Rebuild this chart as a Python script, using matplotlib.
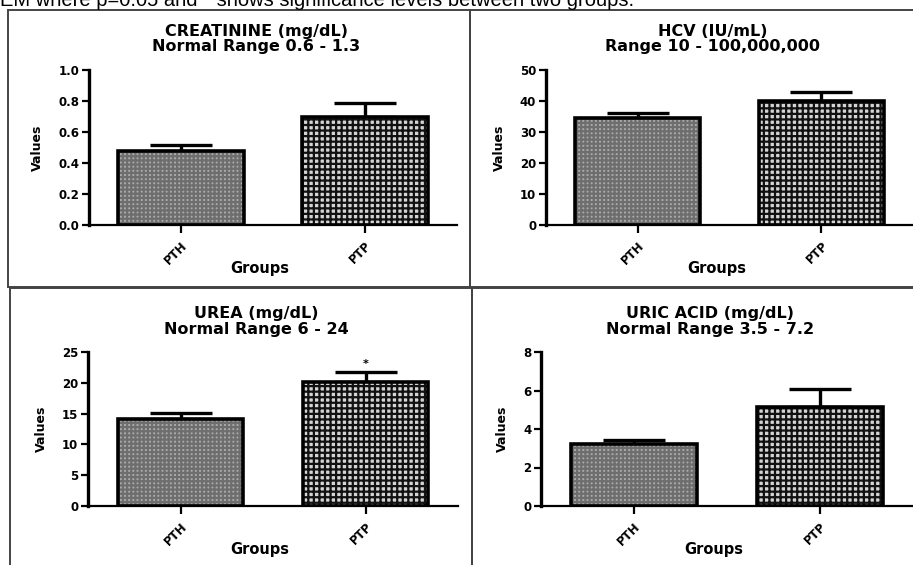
import matplotlib
matplotlib.use("Agg")
import matplotlib.pyplot as plt
from matplotlib.patches import Rectangle
from matplotlib.ticker import FormatStrFormatter

W, H = 913, 565

groups = ["PTH", "PTP"]

creatinine_mean = [0.475, 0.70]
creatinine_sem = [0.04, 0.09]
hcv_mean = [34.5, 40.0]
hcv_sem = [1.5, 2.8]
urea_mean = [14.2, 20.1]
urea_sem = [0.9, 1.6]
uric_mean = [3.2, 5.15]
uric_sem = [0.22, 0.95]

caption = "EM where p=0.05 and * shows significance levels between two groups."

plt.rcParams.update({
    "font.family": "DejaVu Sans",
    "font.weight": "bold",
    "hatch.linewidth": 1.6,
    "axes.linewidth": 2.4,
})

fig = plt.figure(figsize=(W / 100, H / 100), dpi=100, facecolor="white")


def px_axes(left, top, right, bottom):
    return fig.add_axes([left / W, 1 - bottom / H, (right - left) / W, (bottom - top) / H])


def px_box(left, top, right, bottom):
    fig.add_artist(Rectangle((left / W, 1 - bottom / H), (right - left) / W, (bottom - top) / H,
                             transform=fig.transFigure, fill=False, edgecolor="#444444",
                             linewidth=1.4))


# panel frames
px_box(8, 10, 470, 287)
px_box(470, 10, 916, 287)
px_box(10, 288, 472, 570)
px_box(472, 288, 916, 570)

# caption line of the source page, clipped at the top edge like the original
fig.text(0, 1 - 6 / H, caption, fontsize=14.5, fontweight="normal", family="Liberation Sans",
         va="baseline", ha="left", color="black")

panels = [
    # title, means, sems, ymax, step, fmt, axes box, stars
    ("CREATININE (mg/dL)\nNormal Range 0.6 - 1.3", creatinine_mean, creatinine_sem, 1.0, 0.2, "%.1f",
     (89, 70, 457, 225), ["", ""]),
    ("HCV (IU/mL)\nRange 10 - 100,000,000", hcv_mean, hcv_sem, 50, 10, "%d",
     (546, 70, 913, 225), ["", ""]),
    ("UREA (mg/dL)\nNormal Range 6 - 24", urea_mean, urea_sem, 25, 5, "%d",
     (88, 352, 458, 506), ["", "*"]),
    ("URIC ACID (mg/dL)\nNormal Range 3.5 - 7.2", uric_mean, uric_sem, 8, 2, "%d",
     (541, 352, 913, 506), ["", ""]),
]

styles = [
    dict(facecolor="#ababab", edgecolor="#6e6e6e", hatch="++++"),
    dict(facecolor="#d4d4d4", edgecolor="#111111", hatch="+++"),
]

for title, means, sems, ymax, step, fmt, box, stars in panels:
    ax = px_axes(*box)
    x = list(range(len(groups)))
    for i in x:
        ax.bar(i, means[i], width=0.68, linewidth=0, zorder=2, **styles[i])
    ax.bar(x, means, width=0.68, fill=False, edgecolor="black", linewidth=2.6, zorder=3)
    ax.errorbar(x, means, yerr=[[0] * len(x), sems], fmt="none", ecolor="black",
                elinewidth=2.4, capsize=22, capthick=2.4, zorder=1, clip_on=False)
    for i, s in enumerate(stars):
        if s:
            ax.text(i, means[i] + sems[i] + ymax * 0.02, s, ha="center", va="bottom",
                    fontsize=8, fontweight="bold")

    ax.set_xlim(-0.5, 1.5)
    ax.set_ylim(0, ymax)
    n = int(round(ymax / step))
    ax.set_yticks([k * step for k in range(n + 1)])
    ax.yaxis.set_major_formatter(FormatStrFormatter(fmt))
    ax.set_xticks(x)
    ax.set_xticklabels(groups, rotation=45, ha="right", rotation_mode="anchor")
    ax.tick_params(axis="y", length=5, width=1.6, labelsize=8.5, pad=2)
    ax.tick_params(axis="x", length=6, width=1.6, labelsize=8.5, pad=4)
    for side in ("top", "right"):
        ax.spines[side].set_visible(False)
    ax.spines["bottom"].set_linewidth(1.6)
    ax.set_ylabel("Values", fontsize=9, fontweight="bold", labelpad=10)
    ax.set_xlabel("Groups", fontsize=10.5, fontweight="bold")
    ax.xaxis.set_label_coords(0.465, -0.235)
    ax.text(0.455, 1.10, title, transform=ax.transAxes, ha="center", va="bottom",
            fontsize=11.5, fontweight="bold", linespacing=1.02)

fig.savefig("out.png", dpi=100, facecolor="white")
